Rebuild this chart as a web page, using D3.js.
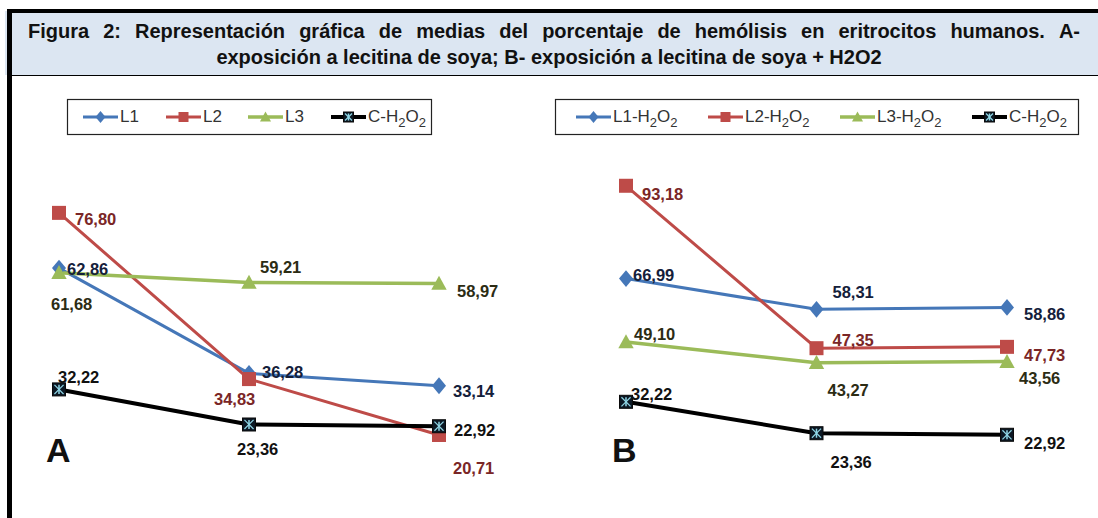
<!DOCTYPE html>
<head>
    <meta charset="utf-8" />
    <title>Figura 2</title>
</head>
<style>
    body { margin: 0; background: #fff; }
    svg text { font-family: "Liberation Sans Narrow", "Arial Narrow", sans-serif; }
    .title { font-size: 20px; font-weight: bold; fill: #111; }
    .lbl { font-size: 16.5px; font-weight: bold; }
    .leg { font-size: 17px; fill: #333; }
    .panel { font-size: 34px; font-weight: bold; fill: #111; }
</style>
<body>
<svg id="fig" width="1098" height="518"></svg>
<script src="https://d3js.org/d3.v7.min.js"></script>
<script>
    // data
    var categories = ["1", "2", "3"];

    var namesA = ["L1", "L2", "L3", "C-H2O2"];
    var L1 = [62.86, 36.28, 33.14];
    var L2 = [76.80, 34.83, 20.71];
    var L3 = [61.68, 59.21, 58.97];
    var C_A = [32.22, 23.36, 22.92];

    var namesB = ["L1-H2O2", "L2-H2O2", "L3-H2O2", "C-H2O2"];
    var L1_H2O2 = [66.99, 58.31, 58.86];
    var L2_H2O2 = [93.18, 47.35, 47.73];
    var L3_H2O2 = [49.10, 43.27, 43.56];
    var C_B = [32.22, 23.36, 22.92];

    var titleLine1 = "Figura 2: Representación gráfica de medias del porcentaje de hemólisis en eritrocitos humanos. A-";
    var titleLine2 = "exposición a lecitina de soya; B- exposición a lecitina de soya + H2O2";

    // label placement (dx, dy from the point) per series
    var offA = [
        [[8, 1], [13, -1], [14, 5]],
        [[16, 6], [-35, 20], [14, 33]],
        [[-8, 31], [11, -16], [18, 8]],
        [[-1, -12], [-12, 25], [15, 4]]
    ];
    var offB = [
        [[7, -4], [16, -17], [17, 7]],
        [[16, 8], [16, -8], [17, 8]],
        [[8, -8], [11, 27], [12, 16]],
        [[5, -8], [14, 29], [17, 8]]
    ];

    var lineColors = ["#4577b8", "#be4b48", "#9bbb59", "#000000"];
    var labelColors = ["#14203a", "#7a2626", "#2c2c14", "#111111"];
    var lineWidths = [3, 3, 3.5, 4];
    var shapes = ["diamond", "square", "triangle", "star"];

    var svg = d3.select("#fig");

    // header frame
    svg.append("rect").attr("x", 5).attr("y", 11).attr("width", 1093).attr("height", 64).attr("fill", "#dce6f2");
    svg.append("line").attr("x1", 7).attr("x2", 1098).attr("y1", 11).attr("y2", 11)
        .attr("stroke", "#000").attr("stroke-width", 4);
    svg.append("line").attr("x1", 9.5).attr("x2", 9.5).attr("y1", 9).attr("y2", 518)
        .attr("stroke", "#000").attr("stroke-width", 5);
    svg.append("line").attr("x1", 9).attr("x2", 1098).attr("y1", 75.5).attr("y2", 75.5)
        .attr("stroke", "#000").attr("stroke-width", 1.2);

    // title, line 1 justified
    var words = titleLine1.split(" ");
    var t1 = svg.append("g");
    var wNodes = t1.selectAll("text").data(words).enter().append("text")
        .attr("class", "title").attr("y", 38).text(function(d) { return d; });
    var widths = [];
    wNodes.each(function() { widths.push(this.getComputedTextLength()); });
    var left = 28, right = 1080;
    var gap = (right - left - d3.sum(widths)) / (words.length - 1);
    var cx = left;
    wNodes.attr("x", function(d, i) { var x = cx; cx += widths[i] + gap; return x; });

    svg.append("text").attr("class", "title").attr("x", 549).attr("y", 64)
        .attr("text-anchor", "middle").text(titleLine2);

    function marker(g, shape, color, s) {
        if (shape === "diamond") {
            g.append("path").attr("d", "M0," + (-s * 0.6) + "L" + (s * 0.5) + ",0L0," + (s * 0.6) + "L" + (-s * 0.5) + ",0Z")
                .attr("fill", color);
        } else if (shape === "square") {
            g.append("rect").attr("x", -s / 2).attr("y", -s / 2).attr("width", s).attr("height", s)
                .attr("fill", color);
        } else if (shape === "triangle") {
            g.append("path").attr("d", "M0," + (-s * 0.55) + "L" + (s * 0.55) + "," + (s * 0.45) + "L" + (-s * 0.55) + "," + (s * 0.45) + "Z")
                .attr("fill", color);
        } else {
            var h = s / 2;
            g.append("rect").attr("x", -h).attr("y", -h).attr("width", s).attr("height", s)
                .attr("fill", "#0c1824").attr("stroke", "#0a0a0a").attr("stroke-width", 1);
            var c = "#8fd6e6", k = h * 0.7;
            g.append("line").attr("x1", 0).attr("x2", 0).attr("y1", -k).attr("y2", k).attr("stroke", c).attr("stroke-width", 1.5);
            g.append("line").attr("x1", -k).attr("x2", k).attr("y1", -k).attr("y2", k).attr("stroke", c).attr("stroke-width", 1.2);
            g.append("line").attr("x1", -k).attr("x2", k).attr("y1", k).attr("y2", -k).attr("stroke", c).attr("stroke-width", 1.2);
        }
    }

    function legendText(t, name) {
        var parts = name.split("H2O2");
        t.append("tspan").text(parts[0] + (parts.length > 1 ? "H" : ""));
        if (parts.length > 1) {
            t.append("tspan").attr("dy", 5).attr("font-size", "13px").text("2");
            t.append("tspan").attr("dy", -5).text("O");
            t.append("tspan").attr("dy", 5).attr("font-size", "13px").text("2");
        }
    }

    function drawPanel(cfg) {
        var x = d3.scalePoint().domain(categories).range(cfg.xRange);
        var y = d3.scaleLinear().domain([0, 100]).range(cfg.yRange);
        var g = svg.append("g");

        var line = d3.line()
            .x(function(d, i) { return x(categories[i]); })
            .y(function(d) { return y(d); });

        cfg.series.forEach(function(vals, s) {
            g.append("path").datum(vals).attr("d", line)
                .attr("fill", "none").attr("stroke", lineColors[s])
                .attr("stroke-width", lineWidths[s]).attr("stroke-linejoin", "round");
        });
        cfg.series.forEach(function(vals, s) {
            vals.forEach(function(v, i) {
                var m = g.append("g").attr("transform", "translate(" + x(categories[i]) + "," + y(v) + ")");
                marker(m, shapes[s], lineColors[s], s === 3 ? 13 : 14);
            });
        });
        cfg.series.forEach(function(vals, s) {
            g.selectAll(".l" + s).data(vals).enter().append("text")
                .attr("class", "lbl")
                .attr("fill", labelColors[s])
                .attr("x", function(d, i) { return x(categories[i]) + cfg.offsets[s][i][0]; })
                .attr("y", function(d, i) { return y(d) + cfg.offsets[s][i][1] + 6; })
                .text(function(d) { return d.toFixed(2).replace(".", ","); });
        });

        // legend
        var lg = svg.append("g");
        lg.append("rect").attr("x", cfg.legBox[0] + 0.5).attr("y", 99.5)
            .attr("width", cfg.legBox[1] - cfg.legBox[0]).attr("height", 35)
            .attr("fill", "#fff").attr("stroke", "#222").attr("stroke-width", 1.2);
        cfg.names.forEach(function(n, s) {
            var x0 = cfg.legX[s], x1 = x0 + cfg.legLen;
            lg.append("line").attr("x1", x0).attr("x2", x1).attr("y1", 117).attr("y2", 117)
                .attr("stroke", lineColors[s]).attr("stroke-width", lineWidths[s]);
            var m = lg.append("g").attr("transform", "translate(" + ((x0 + x1) / 2) + ",117)");
            marker(m, shapes[s], lineColors[s], 10);
            var t = lg.append("text").attr("class", "leg").attr("x", x1 + 2).attr("y", 122);
            legendText(t, n);
        });

        svg.append("text").attr("class", "panel").attr("x", cfg.letterX).attr("y", 462).text(cfg.letter);
    }

    drawPanel({
        series: [L1, L2, L3, C_A],
        names: namesA,
        offsets: offA,
        xRange: [59, 439],
        yRange: [517, 121],
        legBox: [67, 431],
        legX: [83, 166, 248, 331],
        legLen: 35,
        letter: "A",
        letterX: 46
    });

    drawPanel({
        series: [L1_H2O2, L2_H2O2, L3_H2O2, C_B],
        names: namesB,
        offsets: offB,
        xRange: [626, 1007],
        yRange: [516, 161.6],
        legBox: [555, 1078],
        legX: [576, 708, 840, 972],
        legLen: 35,
        letter: "B",
        letterX: 612
    });
</script>
</body>
